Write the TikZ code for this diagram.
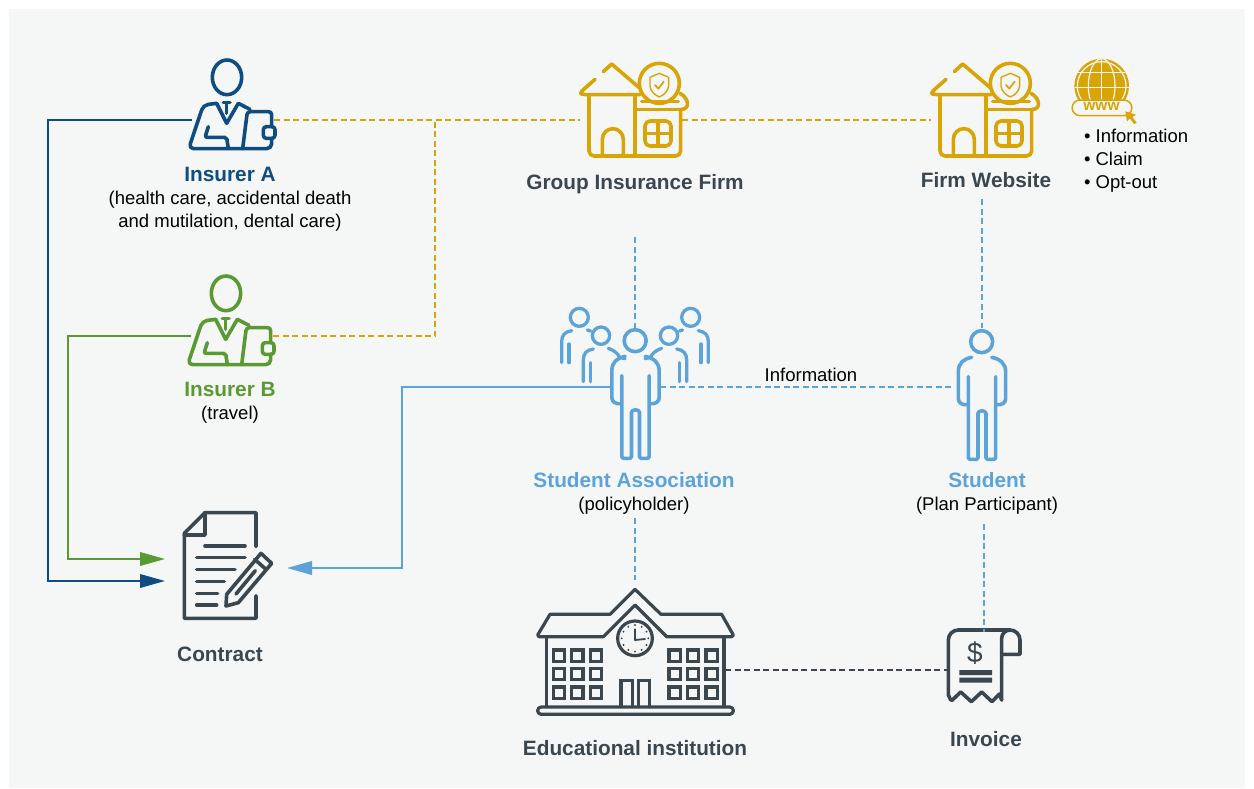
\documentclass[tikz,border=0pt]{standalone}
\usepackage{fontspec}
\setmainfont{Liberation Sans}
\usetikzlibrary{arrows.meta,calc}
\definecolor{panel}{HTML}{F5F7F7}
\definecolor{navy}{HTML}{0F4C81}
\definecolor{grn}{HTML}{5B9A32}
\definecolor{sky}{HTML}{5BA3D9}
\definecolor{gold}{HTML}{D9A406}
\definecolor{slate}{HTML}{3A474E}
\newcommand{\bigt}{\fontsize{20.8}{23}\selectfont\bfseries}
\newcommand{\smallt}{\fontsize{18.5}{23}\selectfont}
\tikzset{
  x=1pt,y=-1pt,
  ico/.style={x=0.33333pt,y=-0.33333pt,line width=3.6pt,line cap=round,line join=round},
  iconbox/.style={inner sep=0pt,outer sep=0pt,draw=none},
  lbl/.style={inner sep=0pt,outer sep=0pt,align=center,anchor=north,font=\smallt,text=black},
  solidc/.style={line width=2pt},
  dashc/.style={line width=1.8pt,dash pattern=on 6pt off 3.5pt},
  tip/.style={-{Triangle[length=25pt,width=13.5pt]}},
  pics/agent/.style={code={
    \begin{scope}[ico]
      \draw (171,82) ellipse [x radius=44,y radius=52];
      \draw[rounded corners=5pt] (140,160) -- (100,165) -- (56,296) -- (305,296) -- (305,265);
      \draw (140,160) -- (170,220) -- (205,160) -- (240,178);
      \draw (160,158) -- (180,158) (170,158) -- (170,190);
      \draw[rounded corners=2pt] (115,230) -- (105,262) -- (170,262) -- (175,296);
      \draw[rounded corners=3pt] (218,296) -- (232,185) -- (305,185) -- (305,230);
      \draw[rounded corners=3pt] (280,230) rectangle (315,265);
    \end{scope}}},
  pics/house/.style={code={
    \begin{scope}[ico]
      \draw (100,65) -- (125,42) -- (210,115);
      \draw[rounded corners=3pt] (75,88) -- (30,128) -- (38,134) -- (210,134);
      \draw[rounded corners=5pt] (57,134) -- (57,318) -- (332,318) -- (332,180);
      \draw (195,134) -- (195,318);
      \draw (97,318) -- (97,268) arc[start angle=180,end angle=360,x radius=31.5,y radius=32] -- (160,318);
      \draw[rounded corners=5pt] (225,213) rectangle (303,288);
      \draw (264,213) -- (264,288) (225,250) -- (303,250);
      \draw (268,100) circle [radius=60];
      \draw (215,155) -- (325,155);
      \draw (198,178) -- (335,178);
      \draw (335,178) .. controls (360,178) and (358,145) .. (330,130);
      \draw[line width=1.4pt] (268,70) -- (240,82) -- (240,108) .. controls (242,125) and (255,135) .. (268,141) .. controls (281,135) and (294,125) .. (296,108) -- (296,82) -- cycle;
      \draw[line width=1.7pt] (255,105) -- (265,116) -- (281,95);
    \end{scope}}},
  pics/student/.style={code={
    \begin{scope}[ico]
      \draw (125,65) circle [radius=33];
      \draw (95,112) .. controls (70,117) and (55,130) .. (55,155) -- (55,235) .. controls (55,248) and (65,256) .. (83,254);
      \draw (155,112) .. controls (180,117) and (197,130) .. (197,155) -- (197,235) .. controls (197,248) and (187,256) .. (169,254);
      \draw[rounded corners=1.5pt] (85,170) -- (85,418) -- (114,418) -- (114,284) arc[start angle=180,end angle=360,radius=12] -- (138,418) -- (167,418) -- (167,170);
    \end{scope}}},
  pics/backperson/.style={code={
    \begin{scope}[ico,line width=3.3pt]
      \draw (88,52) circle [radius=27];
      \draw (65,92) .. controls (45,95) and (35,105) .. (35,125) -- (35,188);
      \draw (57,132) -- (57,188);
      \draw (112,90) -- (122,93);
      \draw (153,107) circle [radius=26];
      \draw (130,147) .. controls (110,150) and (100,160) .. (100,180) -- (100,245);
      \draw (122,188) -- (122,245);
      \draw (175,145) .. controls (190,150) and (205,160) .. (208,172) -- (225,176);
    \end{scope}}},
  pics/contractdoc/.style={code={
    \begin{scope}[ico]
      \draw (378,140) -- (378,38) -- (225,38) -- (163,100) -- (163,355) -- (378,355) -- (378,287);
      \draw (225,38) -- (225,105) -- (163,105);
      \draw (225,138) -- (345,138) (200,173) -- (345,173) (200,208) -- (315,208)
            (200,244) -- (283,244) (200,280) -- (263,280) (200,315) -- (260,315);
      \draw (290,283) -- (393,160) -- (425,190) -- (325,308) -- (288,318) -- cycle;
      \draw (374,178) -- (408,208);
      \draw (318,282) -- (376,212);
    \end{scope}}},
  pics/schoolb/.style={code={
    \begin{scope}[ico,line width=3.2pt]
      \draw (330,28) -- (255,103) -- (75,103) -- (38,165) -- (42,170) -- (235,170) -- (330,75) -- (425,170) -- (620,170) -- (625,165) -- (590,103) -- (408,103) -- cycle;
      \draw (65,170) -- (65,380) (597,170) -- (597,380);
      \draw[fill=panel] (330,175) circle [radius=52];
      \foreach \a in {0,30,...,330} {\fill[slate] (330,175) ++(\a:40) circle [radius=3.2];}
      \draw[line width=1.8pt] (330,148) -- (330,180) -- (360,177);
      \foreach \xx in {85,140,196,432,487,543} \foreach \yy in {210,265,321}
        {\draw[line cap=butt,line join=miter] (\xx,\yy) rectangle ++(34,34);}
      \draw[line join=miter] (288,380) -- (288,302) -- (322,302) -- (322,380);
      \draw[line join=miter] (340,380) -- (340,302) -- (374,302) -- (374,380);
      \draw[rounded corners=3.5pt] (38,381) rectangle (625,403);
    \end{scope}}},
  pics/bill/.style={code={
    \begin{scope}[ico]
      \draw (62,240) -- (55,225) -- (55,60) arc[start angle=180,end angle=270,radius=30] -- (240,30) arc[start angle=270,end angle=360,radius=30] -- (270,103) -- (215,103);
      \draw (240,30) arc[start angle=270,end angle=180,radius=25] -- (215,240);
      \draw (65,242) -- (92,216) -- (124,245) -- (155,216) -- (186,245) -- (208,222) -- (215,240);
      \fill (88,150) rectangle (186,165) (88,173) rectangle (186,188);
    \end{scope}}},
  pics/globe/.style={code={
    \begin{scope}[ico]
      \fill[gold] (125,108) circle [radius=82];
      \begin{scope}
        \clip (125,108) circle [radius=82];
        \draw[panel,line width=1.2pt] (125,108) circle [radius=73];
        \draw[panel,line width=1.2pt] (125,108) ellipse [x radius=40,y radius=82];
        \draw[panel,line width=1.2pt] (125,20) -- (125,190);
        \draw[panel,line width=1.2pt] (30,68) -- (220,68) (30,112) -- (220,112);
      \end{scope}
      \draw[gold,fill=panel,line width=1.5pt] (60,150) -- (192,150) arc[start angle=270,end angle=450,radius=23.5] -- (60,197) arc[start angle=90,end angle=270,radius=23.5] -- cycle;
      \fill[gold] (196,184) -- (228,194) -- (217,201) -- (230,218) -- (222,222) -- (209,205) -- (201,214) -- cycle;
    \end{scope}}}
}
\begin{document}
\begin{tikzpicture}
\useasboundingbox (0,0) rectangle (1254,788);
\fill[panel] (9,9) rectangle (1245,788);

% invisible anchor boxes of the icons
\node[iconbox,minimum width=82pt,minimum height=110pt] (insA) at (233,120) {};
\node[iconbox,minimum width=82pt,minimum height=110pt] (insB) at (232,336) {};
\node[iconbox,minimum width=102pt,minimum height=96pt] (firm) at (631,120) {};
\node[iconbox,minimum width=102pt,minimum height=96pt] (web) at (981.5,120) {};
\node[iconbox,minimum width=50pt,minimum height=118pt] (assoc) at (635,387) {};
\node[iconbox,minimum width=58pt,minimum height=118pt] (stud) at (982,387) {};
\node[iconbox,minimum width=122pt,minimum height=110pt] (contract) at (226,568) {};
\node[iconbox,minimum width=180pt,minimum height=180pt] (school) at (635,670) {};
\node[iconbox,minimum width=72pt,minimum height=76pt] (invoice) at (984,670) {};

% icons
\pic[navy] at (170,50) {agent};
\pic[grn] at (169,266) {agent};
\pic[gold] at (570,50) {house};
\pic[gold] at (921,50) {house};
\pic[sky] at (550,300) {backperson};
\pic[sky,xscale=-1] at (720,300) {backperson};
\pic[sky] at (593.5,319) {student};
\pic[sky] at (940,320) {student};
\pic[slate] at (130,500) {contractdoc};
\pic[slate] at (525,580) {schoolb};
\pic[slate] at (930,620) {bill};
\node[inner sep=0pt,text=slate,font=\fontsize{28}{28}\selectfont] (dollar) at (975,653) {\$};
\pic[gold] at (1060,50) {globe};
\node[inner sep=0pt,text=gold,font=\fontsize{15.5}{16}\selectfont\bfseries] (www) at (1101.5,106) {www};

% free ends
\coordinate (jn) at (435,120);
\coordinate (jb) at (435,336);
\coordinate (gIn) at (165,559);
\coordinate (nIn) at (165,581);
\coordinate (nc) at (48,120);
\coordinate (nd) at (48,581);
\coordinate (gc) at (68,336);
\coordinate (gd) at (68,559);
\coordinate (bc) at (402,387);
\coordinate (bd) at (402,568);
\coordinate (f1) at (635,237);
\coordinate (w1) at (982,199);
\coordinate (a1) at (635,518);
\coordinate (s1) at (984,524);

% connectors
\draw[navy,solidc,tip] (insA.west) -- (nc) -- (nd) -- (nIn);
\draw[grn,solidc,tip] (insB.west) -- (gc) -- (gd) -- (gIn);
\draw[sky,solidc,tip] (assoc.west) -- (bc) -- (bd) -- (contract.east);
\draw[gold,dashc] (insA.east) -- (firm.west);
\draw[gold,dashc] (firm.east) -- (web.west);
\draw[gold,dashc] (insB.east) -- (jb) -- (jn);
\draw[sky,dashc] (f1) -- (assoc.north);
\draw[sky,dashc] (w1) -- (stud.north);
\draw[sky,dashc] (assoc.east) -- (stud.west);
\draw[sky,dashc] (a1) -- (school.north);
\draw[sky,dashc] (s1) -- (invoice.north);
\draw[slate,dashc] (school.east) -- (invoice.west);

% labels
\node[lbl] (tA) at (230,167) {{\bigt\color{navy}Insurer A}\\(health care, accidental death\\and mutilation, dental care)};
\node[lbl] (tB) at (230,382.5) {{\bigt\color{grn}Insurer B}\\(travel)};
\node[lbl,font=\bigt,text=slate] (tF) at (635,174) {Group Insurance Firm};
\node[lbl,font=\bigt,text=slate] (tW) at (986,172) {Firm Website};
\node[lbl,align=left,anchor=north west] (tL) at (1084,129.5) {• Information\\• Claim\\• Opt-out};
\node[lbl] (tI) at (811,368.5) {Information};
\node[lbl] (tS) at (634,472.5) {{\bigt\color{sky}Student Association}\\(policyholder)};
\node[lbl] (tP) at (987,472.5) {{\bigt\color{sky}Student}\\(Plan Participant)};
\node[lbl,font=\bigt,text=slate] (tC) at (220,647) {Contract};
\node[lbl,font=\bigt,text=slate] (tE) at (635,740) {Educational institution};
\node[lbl,font=\bigt,text=slate] (tV) at (986,731.5) {Invoice};
\end{tikzpicture}
\end{document}
